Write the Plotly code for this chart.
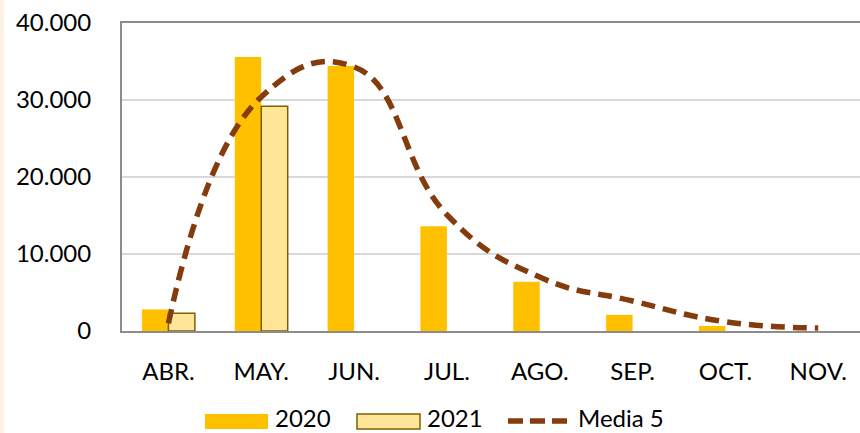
import plotly.graph_objects as go

months = ["ABR.", "MAY.", "JUN.", "JUL.", "AGO.", "SEP.", "OCT.", "NOV."]
v2020 = [2800, 35600, 34400, 13600, 6400, 2100, 650, 0]
v2021 = [2300, 29200, None, None, None, None, None, None]
media5 = [1000, 30400, 34300, 15100, 7000, 3900, 1200, 400]
yticks = [0, 10000, 20000, 30000, 40000]
ytick_text = ["0", "10.000", "20.000", "30.000", "40.000"]

W, H = 860, 433
L, R, T, B = 122, 0, 23, 102
PW, PH = W - L - R, H - T - B
FONT = "Lato"
FS = 24

def px(x):
    return (x - L) / PW

def py(y):
    return (H - B - y) / PH

fig = go.Figure()
fig.add_trace(go.Bar(x=months, y=v2020, name="2020", marker=dict(color="#FFC000", line=dict(width=0))))
fig.add_trace(go.Bar(x=months, y=v2021, name="2021",
                     marker=dict(color="#FFE699", line=dict(color="#7F6000", width=1.5))))
fig.add_trace(go.Scatter(x=months, y=media5, name="Media 5", mode="lines",
                         line=dict(color="#843C0C", width=5.5, dash="14px,8px", shape="spline", smoothing=1.3)))

fig.update_layout(
    width=W, height=H,
    margin=dict(l=L, r=R, t=T, b=B),
    paper_bgcolor="white", plot_bgcolor="white",
    barmode="group", bargap=0.43, bargroupgap=0,
    showlegend=False,
    font=dict(family=FONT, size=FS, color="#000000"),
)
fig.update_xaxes(range=[-0.5, 7.45], showline=True, linecolor="#8C8C8C", linewidth=2, mirror=True,
                 showgrid=False, ticks="", ticklabelstandoff=18, tickfont=dict(size=FS))
fig.update_yaxes(range=[0, 40000], tickvals=yticks, ticktext=ytick_text, showline=True,
                 linecolor="#8C8C8C", linewidth=2, gridcolor="#D9D9D9", gridwidth=1.5,
                 ticks="", ticklabelstandoff=24, tickfont=dict(size=FS), zeroline=False)

# left page border tint
fig.add_shape(type="rect", xref="paper", yref="paper", x0=px(0), x1=px(4), y0=py(H), y1=py(0),
              fillcolor="#FDF1E6", line=dict(width=0), layer="below")

# custom legend
fig.add_shape(type="rect", xref="paper", yref="paper", x0=px(205), x1=px(268), y0=py(429), y1=py(414),
              fillcolor="#FFC000", line=dict(width=0))
fig.add_annotation(xref="paper", yref="paper", x=px(274), y=py(H), text="2020", showarrow=False,
                   xanchor="left", yanchor="bottom", borderpad=0, font=dict(size=FS))
fig.add_shape(type="rect", xref="paper", yref="paper", x0=px(357), x1=px(420), y0=py(429), y1=py(414),
              fillcolor="#FFE699", line=dict(color="#7F6000", width=1.5))
fig.add_annotation(xref="paper", yref="paper", x=px(426), y=py(H), text="2021", showarrow=False,
                   xanchor="left", yanchor="bottom", borderpad=0, font=dict(size=FS))
fig.add_shape(type="line", xref="paper", yref="paper", x0=px(508), x1=px(568), y0=py(421), y1=py(421),
              line=dict(color="#843C0C", width=5.5, dash="15px,7px"))
fig.add_annotation(xref="paper", yref="paper", x=px(577), y=py(H), text="Media 5", showarrow=False,
                   xanchor="left", yanchor="bottom", borderpad=0, font=dict(size=FS))

fig.write_html("out.html", config={"displayModeBar": False},
               post_script="document.body.style.margin='0';document.body.style.padding='0';document.body.style.overflow='hidden';")
